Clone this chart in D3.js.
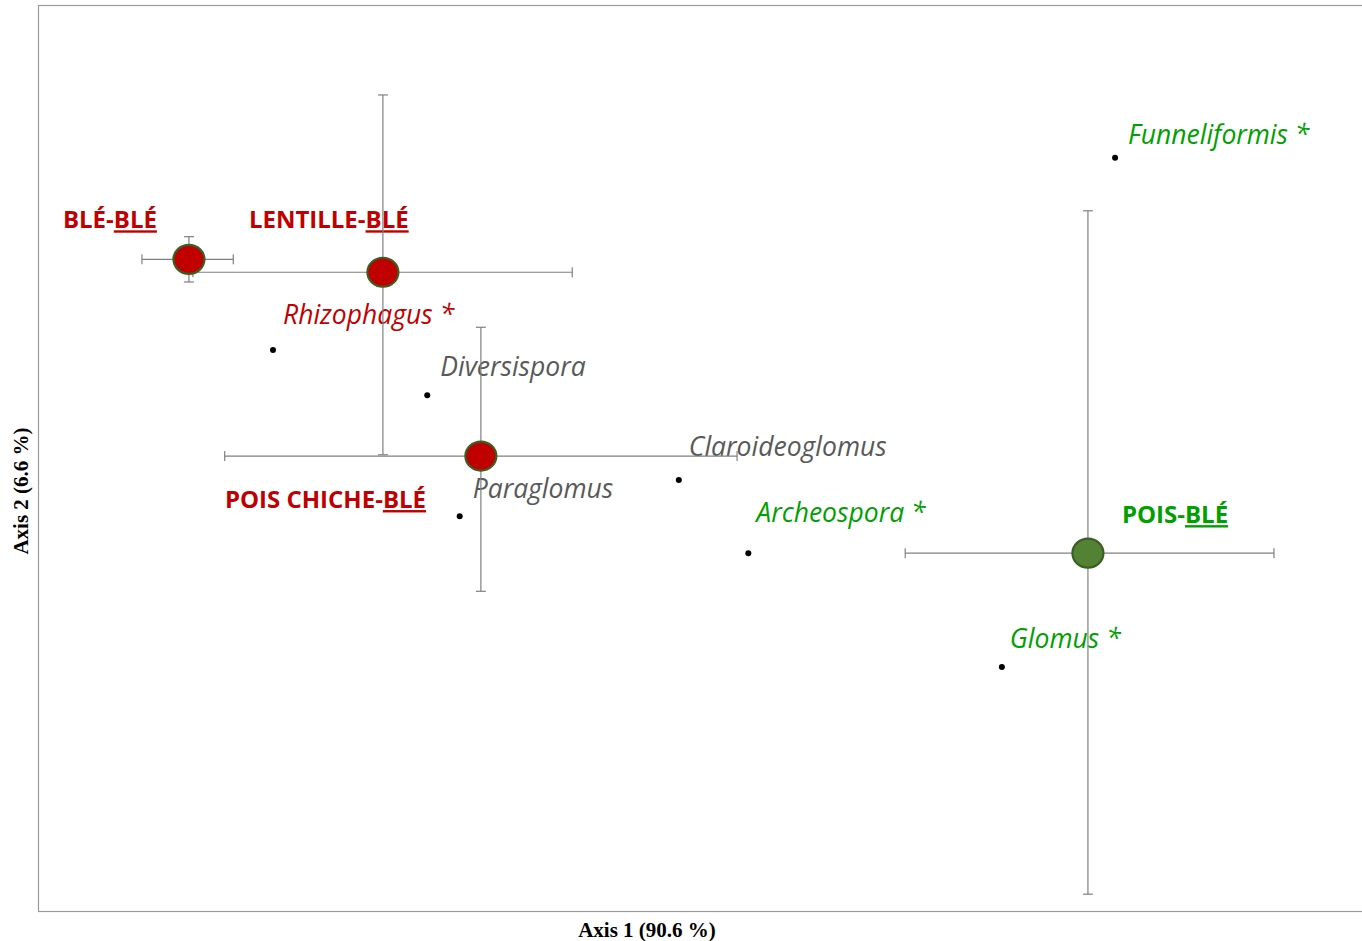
<!DOCTYPE html>
<html><head><meta charset="utf-8">
<script src="https://cdn.jsdelivr.net/npm/d3@7"></script>
<style>
html,body{margin:0;padding:0;background:#fff;}
svg{display:block;}
</style></head>
<body>
<svg id="chart" width="1362" height="941"></svg>
<script>
// ---- data ----
const treatments = ["BLÉ-BLÉ", "LENTILLE-BLÉ", "POIS CHICHE-BLÉ", "POIS-BLÉ"];
const treatAxis1 = [-0.272, 0.021, 0.169, 1.086];
const treatAxis2 = [0.207, 0.187, -0.097, -0.247];
const treatAxis1Low = [-0.343, -0.266, -0.218, 0.810];
const treatAxis1High = [-0.205, 0.307, 0.556, 1.367];
const treatAxis2Low = [0.172, -0.095, -0.306, -0.774];
const treatAxis2High = [0.242, 0.461, 0.102, 0.282];

const genera = ["Rhizophagus *", "Diversispora", "Paraglomus", "Claroideoglomus", "Archeospora *", "Glomus *", "Funneliformis *"];
const genusAxis1 = [-0.145, 0.088, 0.137, 0.468, 0.573, 0.956, 1.127];
const genusAxis2 = [0.067, -0.003, -0.190, -0.134, -0.247, -0.423, 0.364];
const genusGroup = ["red", "grey", "grey", "grey", "green", "green", "green"];

const axisTitles = ["Axis 1 (90.6 %)", "Axis 2 (6.6 %)"];

// ---- layout / style ----
const W = 1362, H = 941;
const plot = {left: 38, top: 5, right: 1362, bottom: 911};
const textColors = {red: "#C00000", grey: "#595959", green: "#00A000"};
const treatFill = ["#C00000", "#C00000", "#C00000", "#548235"];
const treatTextColor = ["#C00000", "#C00000", "#C00000", "#00A000"];
const treatLabelOffset = [[-126, -31], [-134, -44], [-256, 52], [34, -30]];
const genusLabelOffset = [[10, -26], [13, -19], [13, -18], [10, -24], [8, -31], [8, -19], [13, -14]];
const labelFont = "'Open Sans', Lato, sans-serif";

const svg = d3.select("#chart");
const x = d3.scaleLinear().domain([-0.5, 1.5]).range([plot.left, plot.right]);
const y = d3.scaleLinear().domain([-0.8, 0.6]).range([plot.bottom, plot.top]);

// plot frame
svg.append("rect")
  .attr("x", plot.left + 0.5).attr("y", plot.top + 0.5)
  .attr("width", plot.right - plot.left + 5).attr("height", plot.bottom - plot.top)
  .attr("fill", "none").attr("stroke", "#9a9a9a").attr("stroke-width", 1.2);

// axis titles
svg.append("text")
  .attr("x", 647).attr("y", 937)
  .attr("text-anchor", "middle")
  .attr("font-family", "'Liberation Serif', 'Times New Roman', serif")
  .attr("font-weight", "bold").attr("font-size", 21).attr("fill", "#000")
  .text(axisTitles[0]);
svg.append("text")
  .attr("transform", `translate(28, 491) rotate(-90)`)
  .attr("text-anchor", "middle")
  .attr("font-family", "'Liberation Serif', 'Times New Roman', serif")
  .attr("font-weight", "bold").attr("font-size", 21).attr("fill", "#000")
  .text(axisTitles[1]);

// genus labels
genera.forEach((g, i) => {
  svg.append("text")
    .attr("x", x(genusAxis1[i]) + genusLabelOffset[i][0])
    .attr("y", y(genusAxis2[i]) + genusLabelOffset[i][1])
    .attr("font-family", labelFont).attr("font-style", "italic")
    .attr("font-size", 26.5).attr("fill", textColors[genusGroup[i]])
    .text(g);
});

// treatment labels
treatments.forEach((t, i) => {
  const parts = t.split("-");
  const tx = svg.append("text")
    .attr("x", x(treatAxis1[i]) + treatLabelOffset[i][0])
    .attr("y", y(treatAxis2[i]) + treatLabelOffset[i][1])
    .attr("font-family", labelFont).attr("font-weight", "bold")
    .attr("font-size", 24).attr("fill", treatTextColor[i]);
  tx.append("tspan").text(parts[0] + "-");
  tx.append("tspan").attr("text-decoration", "underline").text(parts[1]);
});

// error bars
const eb = svg.append("g").attr("stroke", "#808080").attr("stroke-width", 1.2).attr("fill", "none");
const cap = 5;
treatments.forEach((t, i) => {
  const cx = x(treatAxis1[i]), cy = y(treatAxis2[i]);
  const x0 = x(treatAxis1Low[i]), x1 = x(treatAxis1High[i]);
  const y0 = y(treatAxis2Low[i]), y1 = y(treatAxis2High[i]);
  eb.append("line").attr("x1", x0).attr("x2", x1).attr("y1", cy).attr("y2", cy);
  eb.append("line").attr("x1", x0).attr("x2", x0).attr("y1", cy - cap).attr("y2", cy + cap);
  eb.append("line").attr("x1", x1).attr("x2", x1).attr("y1", cy - cap).attr("y2", cy + cap);
  eb.append("line").attr("x1", cx).attr("x2", cx).attr("y1", y0).attr("y2", y1);
  eb.append("line").attr("x1", cx - cap).attr("x2", cx + cap).attr("y1", y0).attr("y2", y0);
  eb.append("line").attr("x1", cx - cap).attr("x2", cx + cap).attr("y1", y1).attr("y2", y1);
});

// treatment markers
svg.append("g").selectAll("ellipse").data(treatments).join("ellipse")
  .attr("cx", (d, i) => x(treatAxis1[i]))
  .attr("cy", (d, i) => y(treatAxis2[i]))
  .attr("rx", 15.5).attr("ry", 14.5)
  .attr("fill", (d, i) => treatFill[i])
  .attr("stroke", "#3B5E22").attr("stroke-width", 2.2);

// genus points
svg.append("g").selectAll("circle").data(genera).join("circle")
  .attr("cx", (d, i) => x(genusAxis1[i]))
  .attr("cy", (d, i) => y(genusAxis2[i]))
  .attr("r", 3).attr("fill", "#000");
</script>
</body></html>
